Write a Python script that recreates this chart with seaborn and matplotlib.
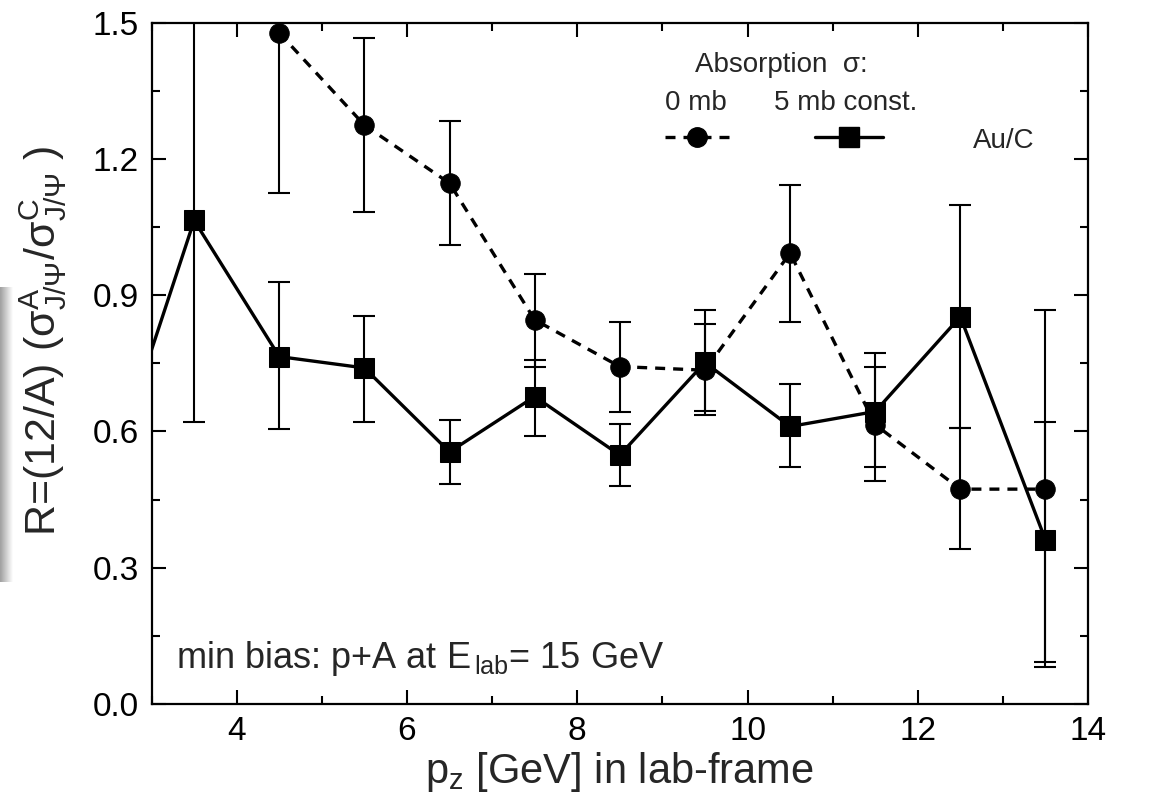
import numpy as np
import pandas as pd
import matplotlib
matplotlib.use("Agg")
import matplotlib.pyplot as plt
import seaborn as sns
from matplotlib.lines import Line2D
from matplotlib.ticker import MultipleLocator, FormatStrFormatter

# ---- data ----
pz_0mb = [4.5, 5.5, 6.5, 7.5, 8.5, 9.5, 10.5, 11.5, 12.5, 13.5]
r_0mb = [1.478, 1.275, 1.147, 0.846, 0.743, 0.735, 0.993, 0.615, 0.473, 0.473]
lo_0mb = [1.126, 1.084, 1.011, 0.743, 0.642, 0.637, 0.842, 0.490, 0.341, 0.081]
hi_0mb = [1.600, 1.467, 1.284, 0.947, 0.842, 0.837, 1.142, 0.742, 0.608, 0.868]

pz_5mb = [2.5, 3.5, 4.5, 5.5, 6.5, 7.5, 8.5, 9.5, 10.5, 11.5, 12.5, 13.5]
r_5mb = [0.495, 1.065, 0.765, 0.740, 0.555, 0.677, 0.548, 0.752, 0.611, 0.644, 0.853, 0.361]
lo_5mb = [np.nan, 0.620, 0.605, 0.620, 0.485, 0.590, 0.479, 0.646, 0.522, 0.522, 0.608, 0.093]
hi_5mb = [np.nan, 1.600, 0.930, 0.855, 0.625, 0.758, 0.617, 0.868, 0.705, 0.774, 1.100, 0.621]

series_names = ["0 mb", "5 mb const."]
x_ticks = [4, 6, 8, 10, 12, 14]
y_ticks = [0.0, 0.3, 0.6, 0.9, 1.2, 1.5]

df = pd.concat([
    pd.DataFrame({"pz": pz_0mb, "R": r_0mb, "lo": lo_0mb, "hi": hi_0mb, "series": series_names[0]}),
    pd.DataFrame({"pz": pz_5mb, "R": r_5mb, "lo": lo_5mb, "hi": hi_5mb, "series": series_names[1]}),
], ignore_index=True)

sns.set_style("ticks")
plt.rcParams["font.family"] = ["Liberation Sans", "DejaVu Sans"]
plt.rcParams["mathtext.fontset"] = "custom"
plt.rcParams["mathtext.rm"] = "Liberation Sans"
plt.rcParams["mathtext.it"] = "Liberation Sans"
plt.rcParams["mathtext.bf"] = "Liberation Sans:bold"
plt.rcParams["mathtext.default"] = "regular"

fig = plt.figure(figsize=(11.75, 8.09), dpi=100)
ax = fig.add_axes([0.129, 0.130, 0.926 - 0.129, 0.9716 - 0.130])

# faint scan shadow at the left page edge
sh = fig.add_axes([0.0, (809 - 582) / 809, 13 / 1175, 295 / 809])
grad = np.linspace(0.62, 1.0, 64)[None, :]
sh.imshow(grad, cmap="gray", vmin=0, vmax=1, aspect="auto", interpolation="bicubic")
sh.axis("off")

# error bars
for name in series_names:
    d = df[df.series == name].dropna()
    ax.errorbar(d.pz, d.R, yerr=[d.R - d.lo, d.hi - d.R], fmt="none",
                ecolor="black", elinewidth=1.5, capsize=8, capthick=1.5, zorder=2)

sns.lineplot(data=df, x="pz", y="R", style="series",
             markers={"0 mb": "o", "5 mb const.": "s"},
             dashes={"0 mb": (3, 2.4), "5 mb const.": ""},
             color="black", linewidth=2.4, markersize=14, markeredgecolor="black",
             estimator=None, sort=False, legend=False, ax=ax, zorder=3)

ax.set_xlim(3, 14)
ax.set_ylim(0, 1.5)
ax.set_xticks(x_ticks)
ax.set_yticks(y_ticks)
ax.xaxis.set_minor_locator(MultipleLocator(1))
ax.yaxis.set_minor_locator(MultipleLocator(0.15))
ax.yaxis.set_major_formatter(FormatStrFormatter("%.1f"))
ax.tick_params(which="both", direction="in", top=True, right=True, width=1.5,
               labelsize=24, colors="black")
ax.tick_params(which="major", length=10, pad=9)
ax.tick_params(which="minor", length=6)
for s in ax.spines.values():
    s.set_linewidth(1.6)
    s.set_color("black")

ax.set_xlabel(r"p$_{\rm z}$ [GeV] in lab-frame", fontsize=30, labelpad=2)
ax.set_ylabel(r"R=(12/A) ($\sigma^{\rm A}_{\rm J/\Psi}$/$\sigma^{\rm C}_{\rm J/\Psi}$ )", fontsize=31)
ax.yaxis.set_label_coords(-0.088, 0.533)

ax.text(0.026, 0.053, r"min bias: p+A at E$_{\rm \,lab}$= 15 GeV", transform=ax.transAxes,
        fontsize=26, va="baseline", ha="left")

# legend drawn as in the original
ax.text(0.672, 0.928, "Absorption  σ:", transform=ax.transAxes, fontsize=20, ha="center", va="baseline")
ax.text(0.581, 0.872, series_names[0], transform=ax.transAxes, fontsize=20, ha="center", va="baseline")
ax.text(0.741, 0.872, series_names[1], transform=ax.transAxes, fontsize=20, ha="center", va="baseline")
ax.text(0.910, 0.816, "Au/C", transform=ax.transAxes, fontsize=20, ha="center", va="baseline")
ax.add_line(Line2D([0.548, 0.620], [0.833, 0.833], transform=ax.transAxes, color="black",
                   linewidth=2.4, dashes=(3, 2.4)))
ax.add_line(Line2D([0.582], [0.833], transform=ax.transAxes, color="black", marker="o",
                   markersize=14, linestyle="none"))
ax.add_line(Line2D([0.708, 0.781], [0.833, 0.833], transform=ax.transAxes, color="black",
                   linewidth=2.4))
ax.add_line(Line2D([0.745], [0.833], transform=ax.transAxes, color="black", marker="s",
                   markersize=14, linestyle="none"))

fig.savefig("out.png", dpi=100)
